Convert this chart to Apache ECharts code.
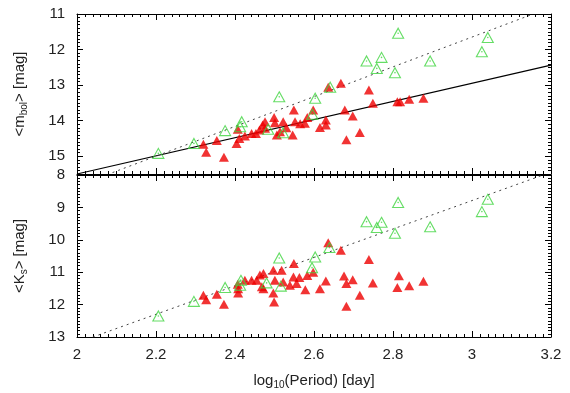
<!DOCTYPE html>
<html>
<head>
<meta charset="utf-8">
<script src="https://cdn.jsdelivr.net/npm/echarts@6/dist/echarts.min.js"></script>
<style>html,body{margin:0;padding:0;background:#fff}#c{width:570px;height:393px}</style>
</head>
<body>
<div id="c"></div>
<script>
// x: log10(Period) [day]; y: magnitudes
var xTicks = [2, 2.2, 2.4, 2.6, 2.8, 3, 3.2];
var bolTicks = [11, 12, 13, 14, 15];
var ksTicks = [8, 9, 10, 11, 12, 13];

var greenBol = [
  [2.206,14.92],[2.296,14.64],[2.375,14.28],[2.417,14.03],[2.413,14.17],[2.484,14.24],
  [2.512,13.33],[2.522,14.34],[2.596,13.82],[2.603,13.37],[2.641,13.06],[2.733,12.32],
  [2.759,12.53],[2.771,12.22],[2.805,12.65],[2.813,11.54],[2.894,12.32],[3.025,12.06],[3.040,11.66]
];
var redBol = [
  [2.320,14.66],[2.327,14.89],[2.354,14.56],[2.372,15.03],[2.404,14.64],[2.407,14.24],
  [2.411,14.50],[2.425,14.43],[2.442,14.36],[2.453,14.36],[2.462,14.26],[2.470,14.12],
  [2.476,14.21],[2.476,14.03],[2.499,13.91],[2.501,14.06],[2.506,14.40],[2.514,14.31],
  [2.522,14.03],[2.530,14.20],[2.546,14.40],[2.549,13.70],[2.552,14.03],[2.565,14.09],
  [2.577,14.07],[2.583,13.91],[2.598,13.70],[2.615,14.19],[2.630,13.98],[2.630,14.12],
  [2.636,13.06],[2.668,12.95],[2.678,13.70],[2.682,14.54],[2.698,13.87],[2.716,14.33],
  [2.739,13.14],[2.749,13.51],[2.811,13.47],[2.818,13.47],[2.841,13.40],[2.877,13.37]
];
var greenKs = [
  [2.206,12.35],[2.296,11.90],[2.375,11.47],[2.415,11.25],[2.413,11.40],[2.480,11.33],
  [2.512,10.56],[2.516,11.43],[2.595,10.86],[2.603,10.53],[2.639,10.24],[2.733,9.44],
  [2.759,9.62],[2.771,9.46],[2.805,9.80],[2.813,8.85],[2.894,9.60],[3.025,9.13],[3.040,8.75]
];
var redKs = [
  [2.320,11.71],[2.327,11.85],[2.354,11.68],[2.372,11.99],[2.407,11.37],[2.408,11.51],
  [2.408,11.64],[2.425,11.25],[2.442,11.25],[2.455,11.25],[2.463,11.09],[2.472,11.04],
  [2.468,11.45],[2.472,11.51],[2.497,10.94],[2.501,11.25],[2.497,11.64],[2.499,11.92],
  [2.518,10.94],[2.522,11.30],[2.539,11.40],[2.549,10.73],[2.548,11.15],[2.556,11.35],
  [2.563,11.16],[2.578,11.54],[2.583,11.10],[2.598,11.00],[2.615,11.51],[2.630,11.27],
  [2.636,10.09],[2.668,10.32],[2.676,11.12],[2.682,11.35],[2.682,12.05],[2.698,11.23],
  [2.716,11.71],[2.739,10.61],[2.749,11.33],[2.811,11.47],[2.815,11.11],[2.841,11.42],[2.877,11.28]
];
// fitted relations (line endpoints)
var bolSolidFit = [[2.0,15.50],[3.2,12.44]];
var bolDottedFit = [[2.09,15.46],[3.155,11.0]];
var ksDottedFit = [[2.04,13.0],[3.18,8.0]];

var fontFam = '"Liberation Sans", Arial, sans-serif';

function xAx(grid, pos, showLabel, name) {
  var a = {
    type:'value', gridIndex:grid, position:pos, min:2, max:3.2, interval:0.2,
    axisLine:{show:true, onZero:false, lineStyle:{color:'#000', width:1}},
    axisTick:{show:true, inside:true, length:6, lineStyle:{color:'#000'}},
    minorTick:{show:true, splitNumber:10, length:3, lineStyle:{color:'#000'}},
    splitLine:{show:false},
    axisLabel:{show:showLabel, margin:10, fontSize:15, color:'#222', fontFamily:fontFam,
      formatter:function(v){ var t=xTicks.filter(function(k){return Math.abs(k-v)<1e-6;}); return t.length?String(t[0]):''; }}
  };
  if (name) {
    a.name = name; a.nameLocation='middle'; a.nameGap = 34;
    a.nameTextStyle = {color:'#222', fontSize:15, fontFamily:fontFam,
      rich:{n:{fontSize:15, fontFamily:fontFam, color:'#222'}, s:{fontSize:10, fontFamily:fontFam, color:'#222', padding:[9,0,0,0]}}};
  }
  return a;
}
function yAx(grid, pos, min, max, ticks, minorSplit, showLabel, name) {
  var a = {
    type:'value', gridIndex:grid, position:pos, min:min, max:max, interval:1, inverse:true,
    axisLine:{show:true, onZero:false, lineStyle:{color:'#000', width:1}},
    axisTick:{show:true, inside:true, length:6, lineStyle:{color:'#000'}},
    minorTick:{show:true, splitNumber:minorSplit, length:3, lineStyle:{color:'#000'}},
    splitLine:{show:false},
    axisLabel:{show:showLabel, margin:12, fontSize:15, color:'#222', fontFamily:fontFam,
      formatter:function(v){ return ticks.indexOf(v)>=0 ? String(v) : ''; }}
  };
  if (name) {
    a.name = name; a.nameLocation='middle'; a.nameGap = 48; a.nameRotate = 90;
    a.nameTextStyle = {color:'#222', fontSize:15, fontFamily:fontFam,
      rich:{n:{fontSize:15, fontFamily:fontFam, color:'#222'}, s:{fontSize:10, fontFamily:fontFam, color:'#222', padding:[9,0,0,0]}}};
  }
  return a;
}

var redStyle = {type:'scatter', symbol:'triangle', symbolSize:[10,9], itemStyle:{color:'#ee0000'}, z:3};
var greenStyle = {type:'scatter', symbol:'triangle', symbolSize:[11,10],
  itemStyle:{color:'rgba(0,0,0,0)', borderColor:'#3fd43f', borderWidth:1.1}, z:4};
var greenDot = {type:'scatter', symbol:'circle', symbolSize:1.6, itemStyle:{color:'#3fd43f'}, z:4};

function mk(base, xi, yi, data){ var o = Object.assign({}, base); o.xAxisIndex=xi; o.yAxisIndex=yi; o.data=data; o.silent=true; return o; }

var option = {
  animation:false,
  backgroundColor:'#fff',
  grid:[
    {left:77, right:19, top:14, height:160},
    {left:77, right:19, top:175, height:162}
  ],
  xAxis:[
    xAx(0,'bottom',false), xAx(0,'top',false),
    xAx(1,'bottom',true,'{n|log}{s|10}{n|(Period) [day]}'), xAx(1,'top',false)
  ],
  yAxis:[
    yAx(0,'left',11,15.5,bolTicks,10,true,'{n|<m}{s|bol}{n|> [mag]}'), yAx(0,'right',11,15.5,bolTicks,10,false),
    yAx(1,'left',8,13,ksTicks,10,true,'{n|<K}{s|s}{n|> [mag]}'), yAx(1,'right',8,13,ksTicks,10,false)
  ],
  series:[
    {type:'line', xAxisIndex:0, yAxisIndex:0, data:bolSolidFit, symbol:'none', lineStyle:{color:'#000', width:1.2}, z:2, silent:true},
    {type:'line', xAxisIndex:0, yAxisIndex:0, data:bolDottedFit, symbol:'none', lineStyle:{color:'#444', width:1, type:[2,4]}, z:2, silent:true},
    {type:'line', xAxisIndex:2, yAxisIndex:2, data:ksDottedFit, symbol:'none', lineStyle:{color:'#444', width:1, type:[2,4]}, z:2, silent:true},
    mk(redStyle,0,0,redBol), mk(greenStyle,0,0,greenBol), mk(greenDot,0,0,greenBol),
    mk(redStyle,2,2,redKs), mk(greenStyle,2,2,greenKs), mk(greenDot,2,2,greenKs)
  ]
};
var chart = echarts.init(document.getElementById('c'), null, {renderer:'canvas'});
chart.setOption(option);
</script>
</body>
</html>
